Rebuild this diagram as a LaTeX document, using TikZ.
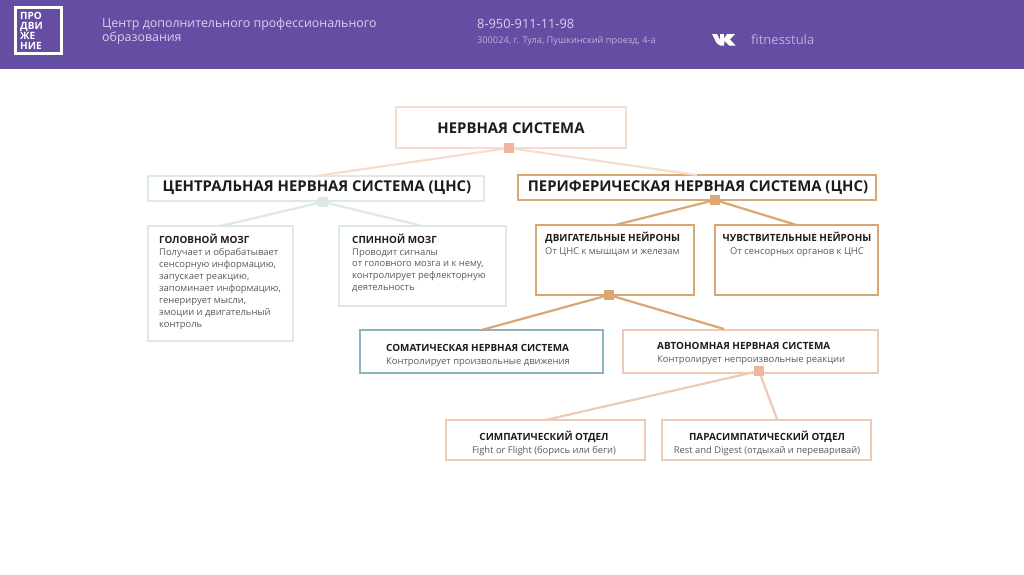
\documentclass[tikz,border=0pt]{standalone}
\usepackage{fontspec}
\setmainfont{Open Sans}
\definecolor{purp}{HTML}{654DA3}
\definecolor{hdr}{HTML}{D9D0EC}
\definecolor{hdrdim}{HTML}{BDB0DC}
\definecolor{ink}{HTML}{1C1C1C}
\definecolor{body}{HTML}{5A5A5A}
\definecolor{peach}{HTML}{F6DDCF}
\definecolor{peachb}{HTML}{EDC9B6}
\definecolor{peachs}{HTML}{EFB69C}
\definecolor{mint}{HTML}{DDE9E6}
\definecolor{amber}{HTML}{D9A772}
\definecolor{teal}{HTML}{8DB5BD}
\tikzset{
  x=1pt,y=-1pt,
  boxb/.style={draw=#1,line width=2.2pt,fill=white,inner sep=0pt,outer sep=0pt,anchor=north west},
  sq/.style={fill=#1,draw=none,minimum size=10pt,inner sep=0pt},
  link/.style={draw=#1,line width=2.2pt},
  ttl/.style={font=\bfseries\fontsize{14.9}{17}\selectfont,text=ink,inner sep=0pt},
  sub/.style={font=\fontsize{9.4}{#1}\selectfont,text=body,inner sep=0pt,align=left},
  sub/.default=13,
}
\newcommand{\bx}[7]{\node[boxb=#6,minimum width=#4pt-#2pt,minimum height=#5pt-#3pt] (#1) at (#2,#3) {#7};}
\newcommand{\hd}[1]{{\fontsize{9.9}{12}\bfseries\selectfont\color{ink}#1}}
\begin{document}
\begin{tikzpicture}
\useasboundingbox (0,0) rectangle (1024,574);
\fill[white] (0,0) rectangle (1024,574);
\fill[purp] (0,0) rectangle (1024,69);
% logo
\node[draw=white,line width=3.5pt,fill=purp,minimum size=46pt,inner sep=0pt] (logo) at (38.5,30.5) {};
\node[anchor=west,font=\bfseries\fontsize{10}{10.2}\selectfont,text=white,align=left,inner sep=0pt] (logot) at (20,31) {ПРО\\ДВИ\\ЖЕ\\НИЕ};
% header text
\node[anchor=north west,inner sep=0pt,align=left,text=hdr,font=\fontsize{12.4}{13.6}\selectfont] (h1) at (102,18) {Центр дополнительного профессионального\\образования};
\node[anchor=west,inner sep=0pt,text=hdr,font=\fontsize{12.8}{16}\selectfont] (h2) at (477,24) {8-950-911-11-98};
\node[anchor=west,inner sep=0pt,text=hdrdim,font=\fontsize{9.2}{10}\selectfont] (h3) at (477,41) {300024, г. Тула, Пушкинский проезд, 4-а};
\node[anchor=west,inner sep=0pt,text=hdrdim,font=\fontsize{13}{14}\selectfont] (h4) at (751,40) {fitnesstula};
% vk mark
\fill[white] (712,34) -- (717,34) -- (720,40) -- (720,34) -- (724,34) -- (724,39) -- (727,34) -- (735,34) -- (730,39.5) -- (735.5,45.5) -- (729,45.5) -- (724.5,41) -- (724,45.5) -- (720,45.5) -- (716.5,43) -- cycle;
% boxes
\bx{top}{396}{107}{626}{148}{peach}{}
\bx{cns}{148}{176}{484}{201}{mint}{}
\bx{pns}{518}{175}{876}{200}{amber}{}
\bx{brain}{148}{226}{293}{341}{mint}{}
\bx{spine}{339}{226}{506}{306}{mint}{}
\bx{motor}{536}{225}{694}{295}{amber}{}
\bx{sens}{715}{225}{878}{295}{amber}{}
\bx{soma}{360}{330}{603}{373}{teal}{}
\bx{auto}{623}{330}{878}{373}{peachb}{}
\bx{symp}{446}{420}{645}{460}{peachb}{}
\bx{para}{662}{420}{871}{460}{peachb}{}
% hubs
\node[sq=peachs] (s1) at (509,148) {};
\node[sq=mint] (s2) at (323,202) {};
\node[sq=amber] (s3) at (715,200) {};
\node[sq=amber] (s4) at (609,295) {};
\node[sq=peachs] (s5) at (759,371) {};
\coordinate (autoin) at (724,329);
\coordinate (parain) at (777,419);
% connectors
\draw[link=peach] (s1) -- (cns.north);
\draw[link=peach] (s1) -- (pns.north);
\draw[link=mint] (s2) -- (brain.north);
\draw[link=mint] (s2) -- (spine.north);
\draw[link=amber] (s3) -- (motor.north);
\draw[link=amber] (s3) -- (sens.north);
\draw[link=amber] (s4) -- (soma.north);
\draw[link=amber] (s4) -- (autoin);
\draw[link=peachb] (s5) -- (symp.north);
\draw[link=peachb] (s5) -- (parain);
% texts
\node[ttl] (t1) at (511,128) {НЕРВНАЯ СИСТЕМА};
\node[ttl] (t2) at (317,188) {ЦЕНТРАЛЬНАЯ НЕРВНАЯ СИСТЕМА (ЦНС)};
\node[ttl] (t3) at (698,188) {ПЕРИФЕРИЧЕСКАЯ НЕРВНАЯ СИСТЕМА (ЦНС)};
\node[sub=12,anchor=north west] (t4) at (159,234) {\hd{ГОЛОВНОЙ МОЗГ}\\Получает и обрабатывает\\сенсорную информацию,\\запускает реакцию,\\запоминает информацию,\\генерирует мысли,\\эмоции и двигательный\\контроль};
\node[sub=11.7,anchor=north west] (t5) at (352,234) {\hd{СПИННОЙ МОЗГ}\\Проводит сигналы\\от головного мозга и к нему,\\контролирует рефлекторную\\деятельность};
\node[sub,anchor=north west] (t6) at (545,232) {\hd{ДВИГАТЕЛЬНЫЕ НЕЙРОНЫ}\\От ЦНС к мышцам и железам};
\node[sub,anchor=north,align=center] (t7) at (797,232) {\hd{ЧУВСТВИТЕЛЬНЫЕ НЕЙРОНЫ}\\От сенсорных органов к ЦНС};
\node[sub,anchor=west] (t8) at (386,355.5) {\hd{СОМАТИЧЕСКАЯ НЕРВНАЯ СИСТЕМА}\\Контролирует произвольные движения};
\node[sub,anchor=west] (t9) at (657,354) {\hd{АВТОНОМНАЯ НЕРВНАЯ СИСТЕМА}\\Контролирует непроизвольные реакции};
\node[sub,align=center] (t10) at (544,443) {\hd{СИМПАТИЧЕСКИЙ ОТДЕЛ}\\Fight or Flight (борись или беги)};
\node[sub,align=center] (t11) at (767,443) {\hd{ПАРАСИМПАТИЧЕСКИЙ ОТДЕЛ}\\Rest and Digest (отдыхай и переваривай)};
\end{tikzpicture}
\end{document}
